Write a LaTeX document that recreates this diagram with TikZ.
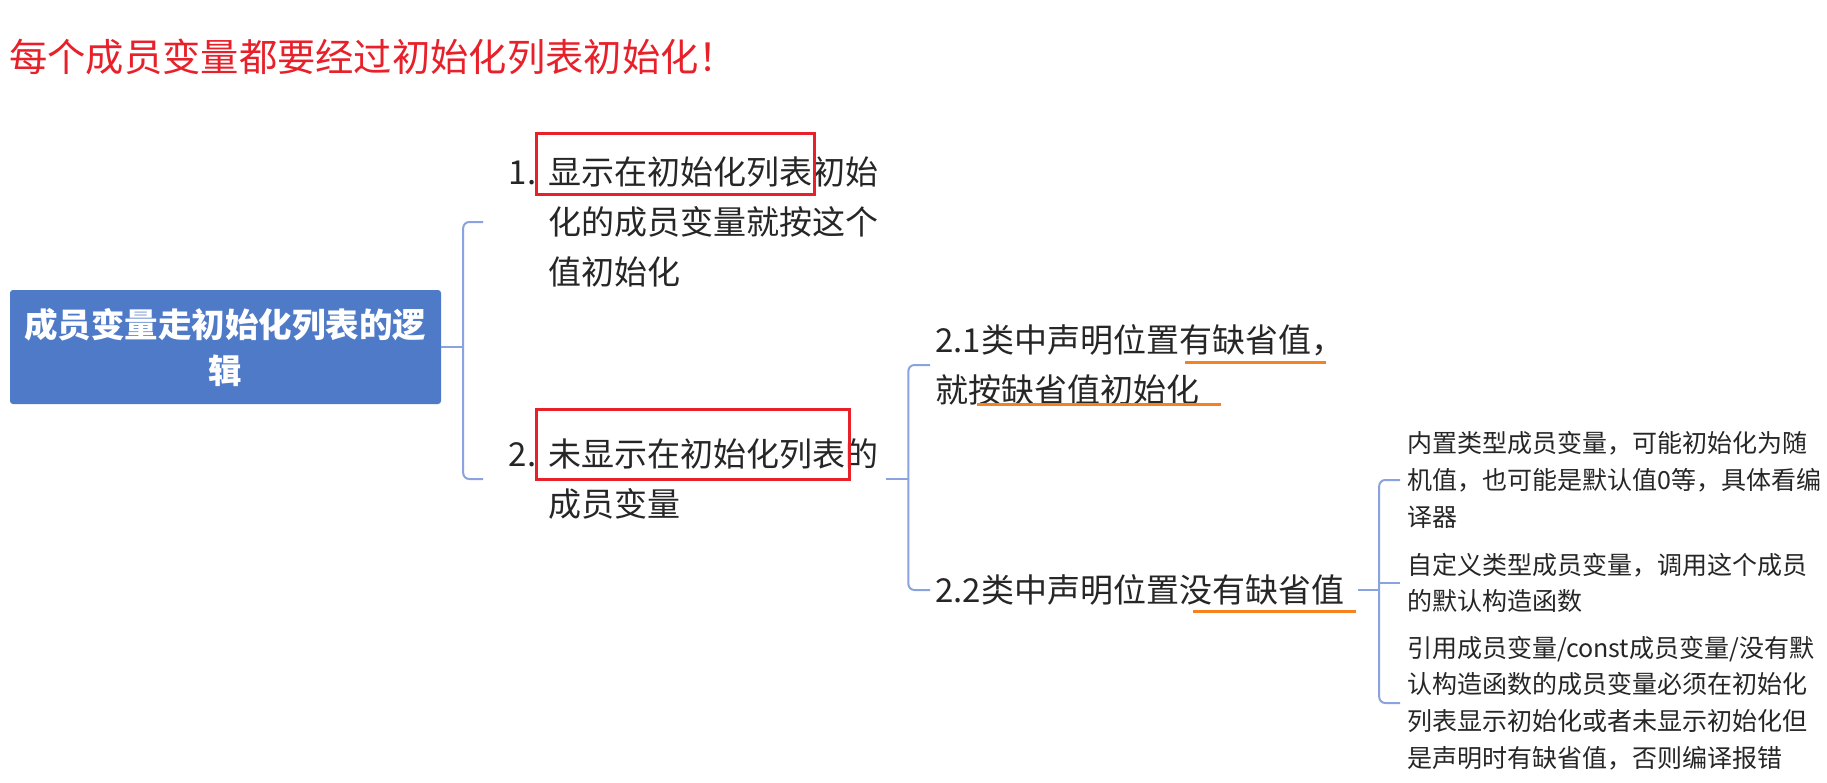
\documentclass[tikz,border=0pt]{standalone}
\usepackage{fontspec}
\setmainfont{Noto Sans CJK SC}
\usetikzlibrary{calc}
\definecolor{titlered}{HTML}{E8202A}
\definecolor{rootblue}{HTML}{4F7AC7}
\definecolor{connblue}{HTML}{8AA3E0}
\definecolor{markorange}{HTML}{F5821F}
\definecolor{textdark}{HTML}{262626}
\tikzset{
  conn/.style={draw=connblue, line width=2pt},
  topic/.style={inner sep=0pt, anchor=west, align=left, text=textdark, font=\fontsize{33}{50}\selectfont},
  leaf/.style={inner sep=0pt, anchor=west, align=left, text=textdark, font=\fontsize{25}{36.7}\selectfont},
  rootbox/.style={fill=rootblue, rounded corners=3pt, minimum width=431pt, minimum height=114pt, inner sep=0pt, text=white, align=center, font=\bfseries\fontsize{33.5}{46}\selectfont},
  redbox/.style={draw=titlered, line width=3pt},
  uline/.style={draw=markorange, line width=3pt},
}
\begin{document}
\begin{tikzpicture}[x=1pt, y=-1pt]
\useasboundingbox[fill=white] (0,0) rectangle (1827,782);

% title
\node[anchor=west, inner sep=0pt, text=titlered, font=\fontsize{38.3}{46}\selectfont] (title) at (9,57) {每个成员变量都要经过初始化列表初始化！};

% root
\node[rootbox] (root) at (225.5,347) {\raisebox{-3pt}{\parbox{420pt}{\centering 成员变量走初始化列表的逻\\辑}}};

% level 1
\node[topic] (n1) at (548,222) {\llap{1.\hspace{12pt}}显示在初始化列表初始\\化的成员变量就按这个\\值初始化};
\node[topic] (n2) at (548,479) {\llap{2.\hspace{12pt}}未显示在初始化列表的\\成员变量};

% level 2
\node[topic] (n21) at (935,365) {2.1类中声明位置有缺省值，\\就按缺省值初始化};
\node[topic] (n22) at (935,590) {2.2类中声明位置没有缺省值};

% leaves
\node[leaf] (l1) at (1407,480) {内置类型成员变量，可能初始化为随\\机值，也可能是默认值0等，具体看编\\译器};
\node[leaf] (l2) at (1407,583) {自定义类型成员变量，调用这个成员\\的默认构造函数};
\node[leaf] (l3) at (1407,703) {引用成员变量/const成员变量/没有默\\认构造函数的成员变量必须在初始化\\列表显示初始化或者未显示初始化但\\是声明时有缺省值，否则编译报错};

% junctions
\coordinate (j1) at ($(root.east)+(22,0)$);
\coordinate (j2) at ($(n2.east)+(30,0)$);
\coordinate (j3) at ($(n22.east)+(35,0)$);

% connectors
\draw[conn] (root.east) -- (j1);
\draw[conn, rounded corners=6pt] (j1) |- ($(n1.west)+(-65,0)$);
\draw[conn, rounded corners=6pt] (j1) |- ($(n2.west)+(-65,0)$);

\draw[conn] ($(n2.east)+(8,0)$) -- (j2);
\draw[conn, rounded corners=6pt] (j2) |- ($(n21.west)+(-5,0)$);
\draw[conn, rounded corners=6pt] (j2) |- ($(n22.west)+(-5,0)$);

\draw[conn] ($(n22.east)+(14,0)$) -- (j3);
\draw[conn, rounded corners=6pt] ($(l1.west)+(-7,0)$) -| (j3) |- ($(l3.west)+(-7,0)$);
\draw[conn] (j3 |- l2.west) -- ($(l2.west)+(-7,0)$);

% red marks
\draw[redbox] (536,133) rectangle (814,194);
\draw[redbox] (536,409) rectangle (849,479);

% orange underlines
\draw[uline] (1185,362) -- (1326,362);
\draw[uline] (977,404) -- (1221,404);
\draw[uline] (1193,611) -- (1356,611);
\end{tikzpicture}
\end{document}
